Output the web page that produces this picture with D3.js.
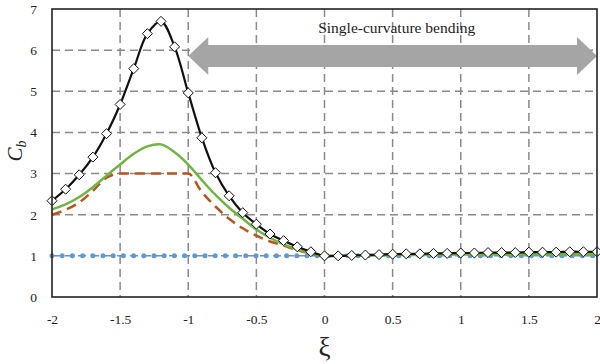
<!DOCTYPE html>
<html>
<head>
<meta charset="utf-8">
<script src="https://cdn.jsdelivr.net/npm/d3@7"></script>
<style>
  body { margin: 0; background: #fff; }
  svg { display: block; font-family: "Liberation Serif", "Times New Roman", serif; }
</style>
</head>
<body>
<div id="chart"></div>
<script>
var margin = {top: 9, right: 3, bottom: 67, left: 52},
    width = 600 - margin.left - margin.right,
    height = 364 - margin.top - margin.bottom;

// xi values, step 0.1 from -2 to 2
var xi = [-2.0, -1.9, -1.8, -1.7, -1.6, -1.5, -1.4, -1.3, -1.2, -1.1, -1.0,
          -0.9, -0.8, -0.7, -0.6, -0.5, -0.4, -0.3, -0.2, -0.1, 0.0,
           0.1, 0.2, 0.3, 0.4, 0.5, 0.6, 0.7, 0.8, 0.9, 1.0,
           1.1, 1.2, 1.3, 1.4, 1.5, 1.6, 1.7, 1.8, 1.9, 2.0];

var cbBlack = [2.34, 2.62, 2.97, 3.40, 3.97, 4.68, 5.55, 6.40, 6.70, 6.08, 4.96,
               3.87, 3.02, 2.46, 2.05, 1.77, 1.53, 1.37, 1.22, 1.10, 1.00,
               1.00, 1.01, 1.02, 1.03, 1.04, 1.05, 1.05, 1.06, 1.06, 1.07,
               1.07, 1.08, 1.08, 1.08, 1.09, 1.09, 1.09, 1.10, 1.10, 1.10];

var cbGreen = [2.13, 2.25, 2.43, 2.67, 2.95, 3.22, 3.48, 3.66, 3.71, 3.52, 3.22,
               2.84, 2.48, 2.17, 1.90, 1.64, 1.44, 1.28, 1.16, 1.07, 1.00,
               1.00, 1.01, 1.01, 1.01, 1.02, 1.02, 1.02, 1.02, 1.03, 1.03,
               1.03, 1.03, 1.03, 1.03, 1.04, 1.04, 1.04, 1.04, 1.04, 1.04];

var cbBrown = [2.00, 2.12, 2.30, 2.58, 2.90, 3.00, 3.00, 3.00, 3.00, 3.00, 3.00,
               2.55, 2.20, 1.90, 1.67, 1.49, 1.35, 1.25, 1.14, 1.06, 1.00,
               1.01, 1.01, 1.02, 1.02, 1.03, 1.03, 1.04, 1.04, 1.05, 1.05,
               1.05, 1.06, 1.06, 1.06, 1.07, 1.07, 1.07, 1.08, 1.08, 1.08];

var cbBlue = xi.map(function() { return 1.0; });

var xTicks = [-2, -1.5, -1, -0.5, 0, 0.5, 1, 1.5, 2];
var yTicks = [0, 1, 2, 3, 4, 5, 6, 7];

// annotation: arrow over single-curvature range
var arrowRange = [-1, 2];
var arrowY = 5.86;
var noteText = "Single-curvature bending";

var svg = d3.select('#chart')
    .append('svg')
    .attr("width", 600)
    .attr("height", 364)
    .append("g")
    .attr("transform", "translate(" + margin.left + "," + margin.top + ")");

var x = d3.scaleLinear().domain([-2, 2]).range([0, width]),
    y = d3.scaleLinear().domain([0, 7]).range([height, 0]);

// grid lines
svg.append("g")
    .selectAll("line.vgrid")
    .data(xTicks.slice(1, -1))
    .enter().append("line")
    .attr("x1", function(d) { return x(d); })
    .attr("x2", function(d) { return x(d); })
    .attr("y1", 0)
    .attr("y2", height)
    .attr("stroke", "#8a8a8a")
    .attr("stroke-width", 1.5)
    .attr("stroke-dasharray", "8,5");

svg.append("g")
    .selectAll("line.hgrid")
    .data(yTicks.slice(1, -1))
    .enter().append("line")
    .attr("x1", 0)
    .attr("x2", width)
    .attr("y1", function(d) { return y(d); })
    .attr("y2", function(d) { return y(d); })
    .attr("stroke", "#8a8a8a")
    .attr("stroke-width", 1.5)
    .attr("stroke-dasharray", "8,5");

// axes (labels only), plain hyphen minus like the original
var fmt = function(d) { return String(d); };
var xAxis = svg.append("g")
    .attr("transform", "translate(0," + height + ")")
    .call(d3.axisBottom(x).tickValues(xTicks).tickSize(0).tickPadding(17).tickFormat(fmt));
var yAxis = svg.append("g")
    .call(d3.axisLeft(y).tickValues(yTicks).tickSize(0).tickPadding(15).tickFormat(fmt));
[xAxis, yAxis].forEach(function(a) {
    a.attr("font-family", "Liberation Serif").attr("font-size", 13.5);
    a.select(".domain").remove();
    a.selectAll("text").attr("fill", "#222");
});

// arrow
var ax0 = x(arrowRange[0]), ax1 = x(arrowRange[1]), ay = y(arrowY);
var bodyH = 11, headH = 19, headL = 20;
var arrowPts = [
    [ax0, ay], [ax0 + headL, ay - headH], [ax0 + headL, ay - bodyH],
    [ax1 - headL, ay - bodyH], [ax1 - headL, ay - headH], [ax1, ay],
    [ax1 - headL, ay + headH], [ax1 - headL, ay + bodyH],
    [ax0 + headL, ay + bodyH], [ax0 + headL, ay + headH]
];
svg.append("path")
    .attr("d", "M" + arrowPts.join("L") + "Z")
    .attr("fill", "#a5a5a5");

svg.append("text")
    .attr("x", x((arrowRange[0] + arrowRange[1]) / 2 + 0.03))
    .attr("y", y(6.42))
    .attr("text-anchor", "middle")
    .style("font-size", "15.5px")
    .attr("fill", "#222")
    .text(noteText);

// lines
function pts(vals) { return vals.map(function(v, i) { return {k: xi[i], v: v}; }); }

var lineSmooth = d3.line()
    .x(function(d) { return x(d.k); })
    .y(function(d) { return y(d.v); })
    .curve(d3.curveCatmullRom.alpha(0.5));

var lineMono = d3.line()
    .x(function(d) { return x(d.k); })
    .y(function(d) { return y(d.v); })
    .curve(d3.curveMonotoneX);

svg.append("path")
    .datum(pts(cbBlue))
    .attr("d", lineMono)
    .attr("fill", "none")
    .attr("stroke", "#5b9bd5")
    .attr("stroke-width", 5)
    .attr("stroke-linecap", "round")
    .attr("stroke-dasharray", "0,10.2");

svg.append("path")
    .datum(pts(cbBrown))
    .attr("d", lineMono)
    .attr("fill", "none")
    .attr("stroke", "#b8551f")
    .attr("stroke-width", 2.5)
    .attr("stroke-dasharray", "10,6");

svg.append("path")
    .datum(pts(cbGreen))
    .attr("d", lineSmooth)
    .attr("fill", "none")
    .attr("stroke", "#6fb543")
    .attr("stroke-width", 2.5);

svg.append("path")
    .datum(pts(cbBlack))
    .attr("d", lineSmooth)
    .attr("fill", "none")
    .attr("stroke", "#111")
    .attr("stroke-width", 2.2);

svg.selectAll(".marker")
    .data(pts(cbBlack))
    .enter().append("path")
    .attr("class", "marker")
    .attr("transform", function(d) { return "translate(" + x(d.k) + "," + y(d.v) + ")"; })
    .attr("d", "M0,-5L5,0L0,5L-5,0Z")
    .attr("fill", "#fff")
    .attr("stroke", "#111")
    .attr("stroke-width", 1);

// plot frame
svg.append("rect")
    .attr("width", width)
    .attr("height", height)
    .attr("fill", "none")
    .attr("stroke", "#222")
    .attr("stroke-width", 1.6);

// axis titles
svg.append("text")
    .attr("transform", "translate(" + (-30) + "," + (height / 2 - 2) + ") rotate(-90)")
    .attr("text-anchor", "middle")
    .style("font-size", "21px")
    .style("font-style", "italic")
    .attr("fill", "#222")
    .html('C<tspan dy="4" style="font-size:14px">b</tspan>');

svg.append("text")
    .attr("x", x(0))
    .attr("y", height + 59)
    .attr("text-anchor", "middle")
    .style("font-size", "27px")
    .attr("fill", "#222")
    .text("ξ");
</script>
</body>
</html>
